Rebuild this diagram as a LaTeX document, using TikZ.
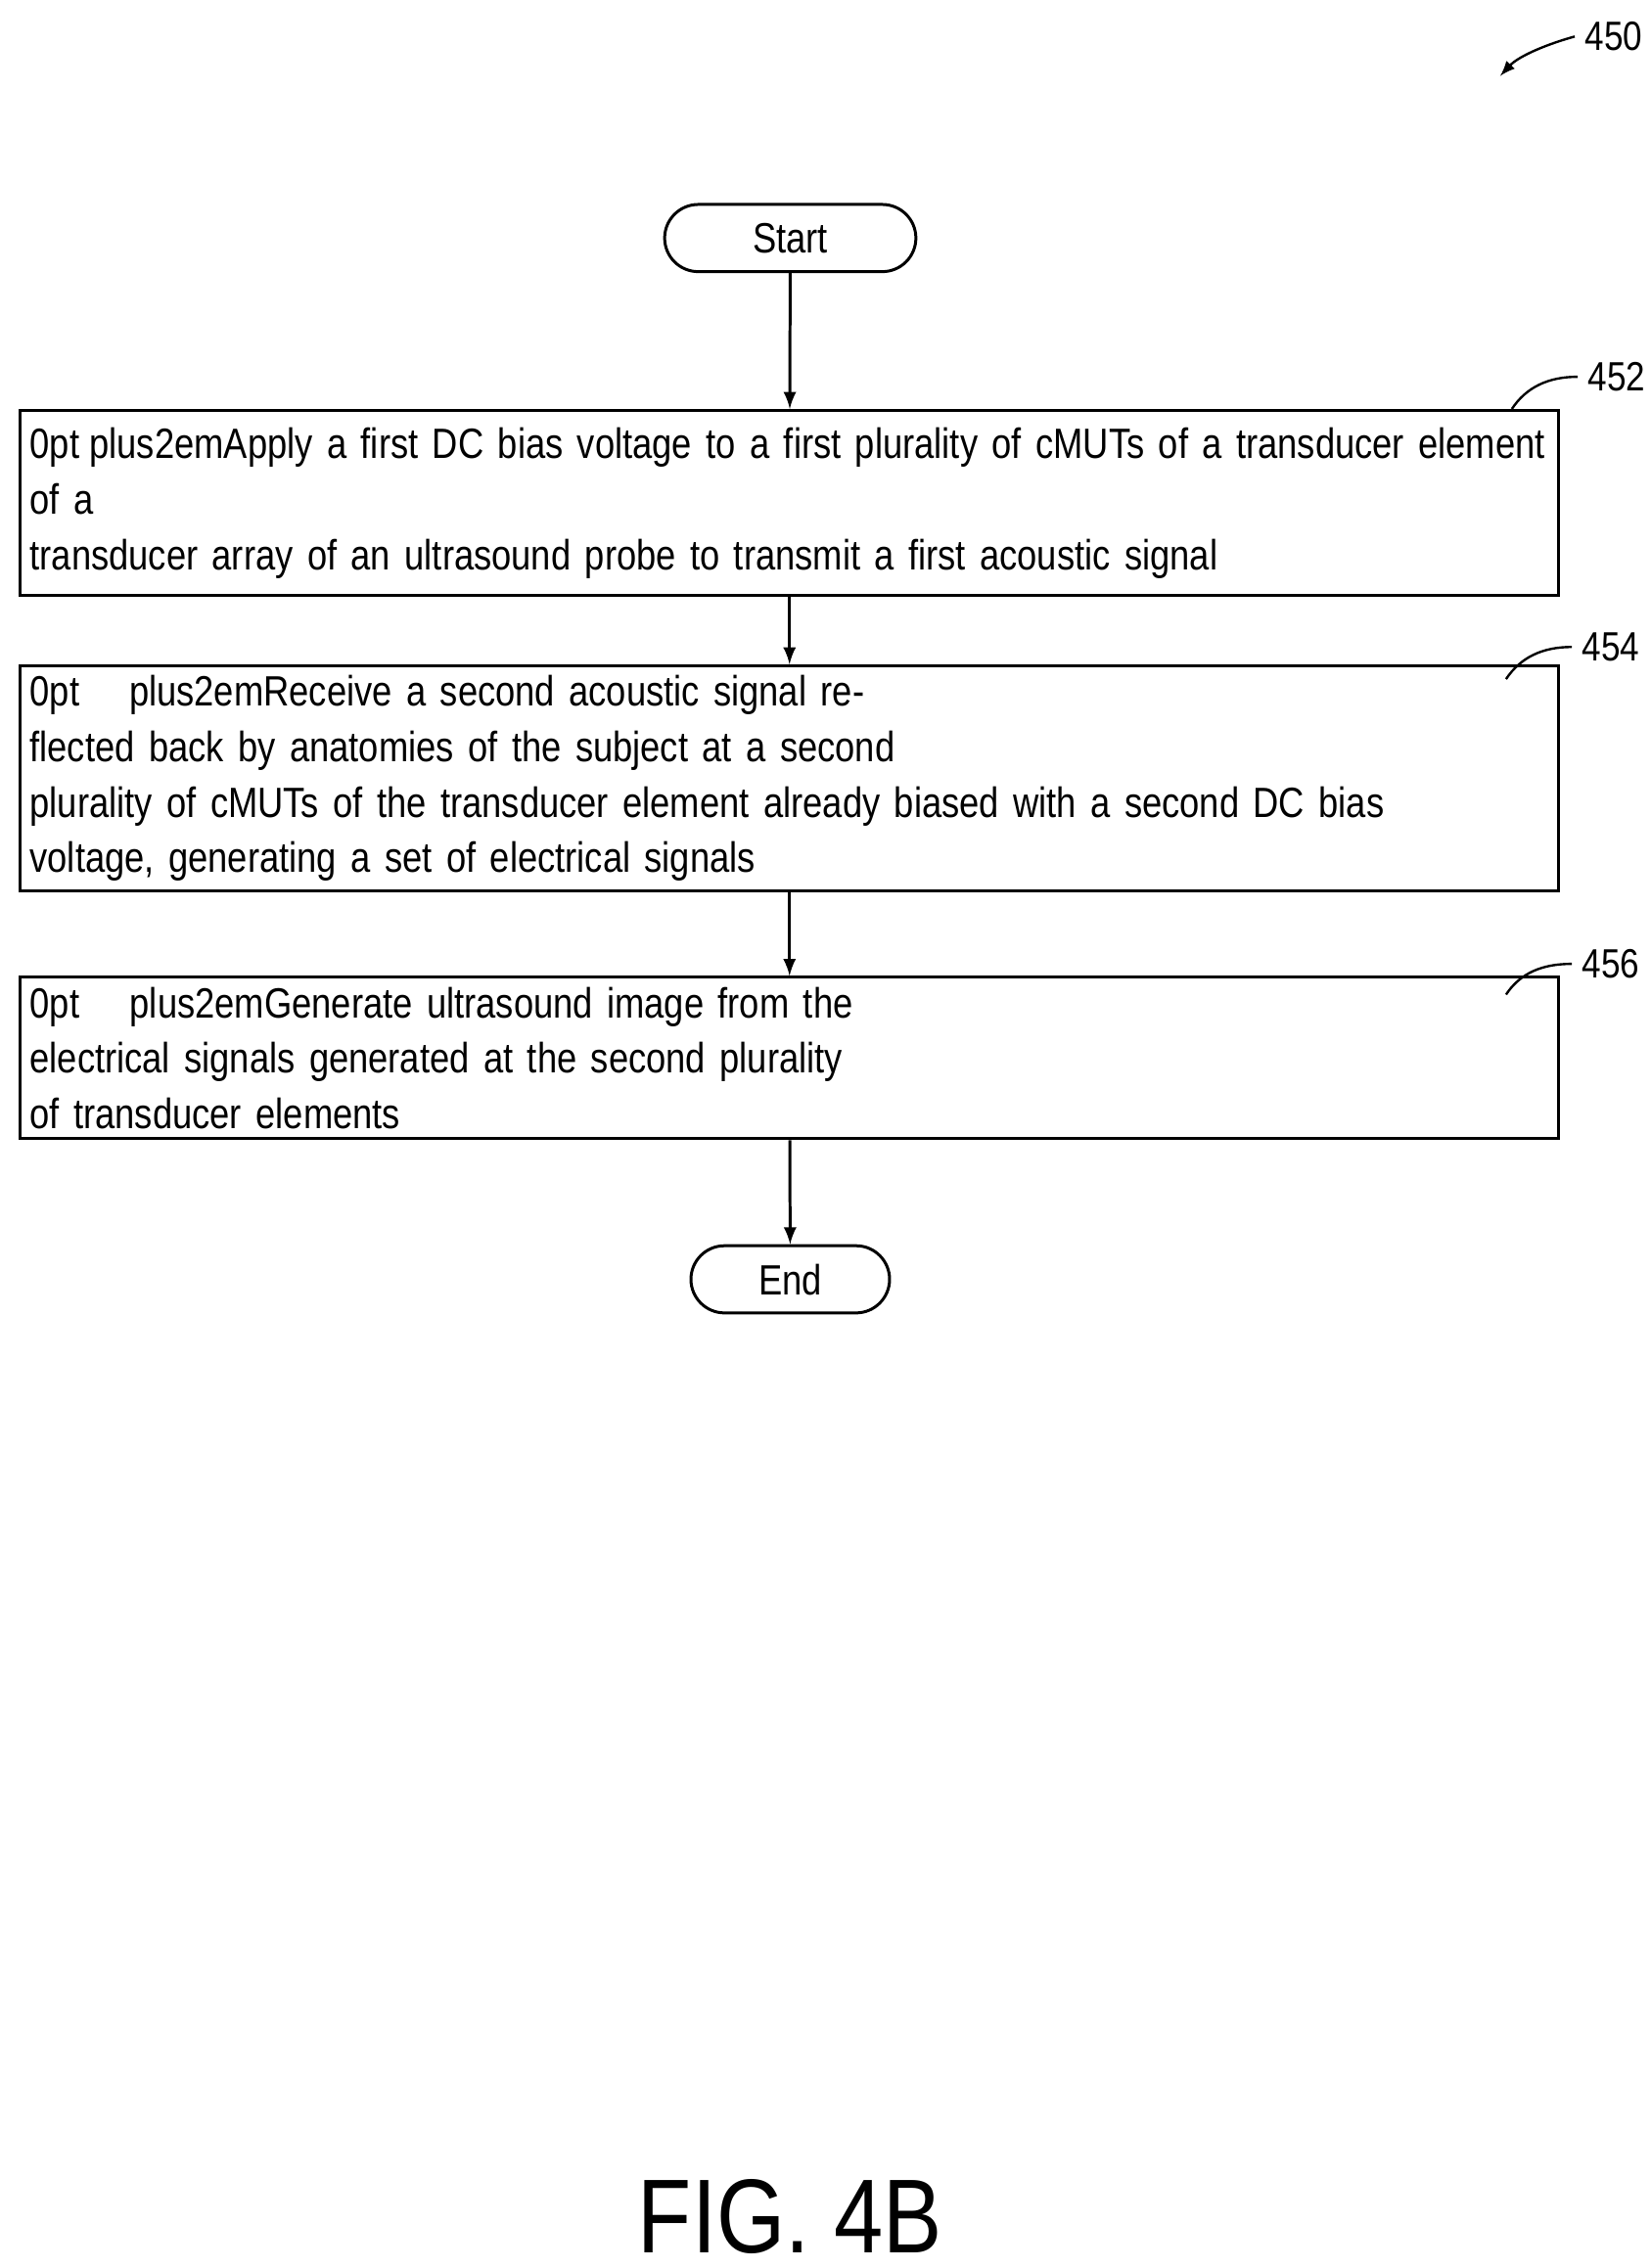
\documentclass[tikz,border=0pt]{standalone}
\usepackage{fontspec}
\setmainfont{Liberation Sans}[FakeStretch=0.84]
\usetikzlibrary{positioning,arrows}
\begin{document}
\begin{tikzpicture}
	[   x=0.5pt,y=-0.5pt,
	    sbox/.style={draw=black,line width=1pt,minimum width=525.5pt,align=center,text width=520pt,font=\fontsize{14.5}{19}\selectfont\hyphenpenalty=10000\exhyphenpenalty=10000},
	    term/.style={draw=black,line width=1pt,rounded corners=11.5pt,font=\fontsize{14.5}{19}\selectfont},
	    ref/.style={font=\fontsize{14}{17}\selectfont},
	]
	\tikzset{normal arrow/.style={draw,line width=1pt,-latex}}
	\useasboundingbox (0,0) rectangle (1130,1553);
	\node[term,minimum width=86pt,minimum height=23pt] (start) at (541,163) {Start};
	\node[sbox,minimum height=63.5pt] (s452) at (540.5,344.5) {Apply a first DC bias voltage to a first plurality of cMUTs of a transducer element of a\\ transducer array of an ultrasound probe to transmit a first acoustic signal};
	\node[sbox,minimum height=66pt] (s454) at (540.5,533) {Receive a second acoustic signal reflected back by anatomies of the subject at a second\\ plurality of cMUTs of the transducer element already biased with a second DC bias\\ voltage, generating a set of electrical signals};
	\node[sbox,minimum height=43.5pt] (s456) at (540.5,724.5) {Generate ultrasound image from the electrical signals generated at the second plurality\\ of transducer elements};
	\node[term,minimum width=68pt,minimum height=23pt] (end) at (541,876) {End};
	% connectors
	\path[normal arrow] (start) -- (s452);
	\path[normal arrow] (s452) -- (s454);
	\path[normal arrow] (s454) -- (s456);
	\path[normal arrow] (s456) -- (end);
	% reference numerals
	\node[ref,anchor=west] (n452) at (1080,258) {452};
	\node[ref,anchor=west] (n454) at (1076,443) {454};
	\node[ref,anchor=west] (n456) at (1076,660) {456};
	\node[ref,anchor=west] (n450) at (1078,25) {450};
	\draw[line width=0.8pt] (1035,280) .. controls (1045,265) and (1060,258) .. (n452.west);
	\draw[line width=0.8pt] (1031,465) .. controls (1041,450) and (1056,443) .. (n454.west);
	\draw[line width=0.8pt] (1031,681) .. controls (1041,666) and (1056,660) .. (n456.west);
	\draw[line width=0.8pt,-latex] (n450.west) .. controls (1060,30) and (1040,38) .. (1027,52);
	\node[font=\fontsize{36}{38}\selectfont] (fig) at (541,1518) {FIG. 4B};
\end{tikzpicture}
\end{document}
